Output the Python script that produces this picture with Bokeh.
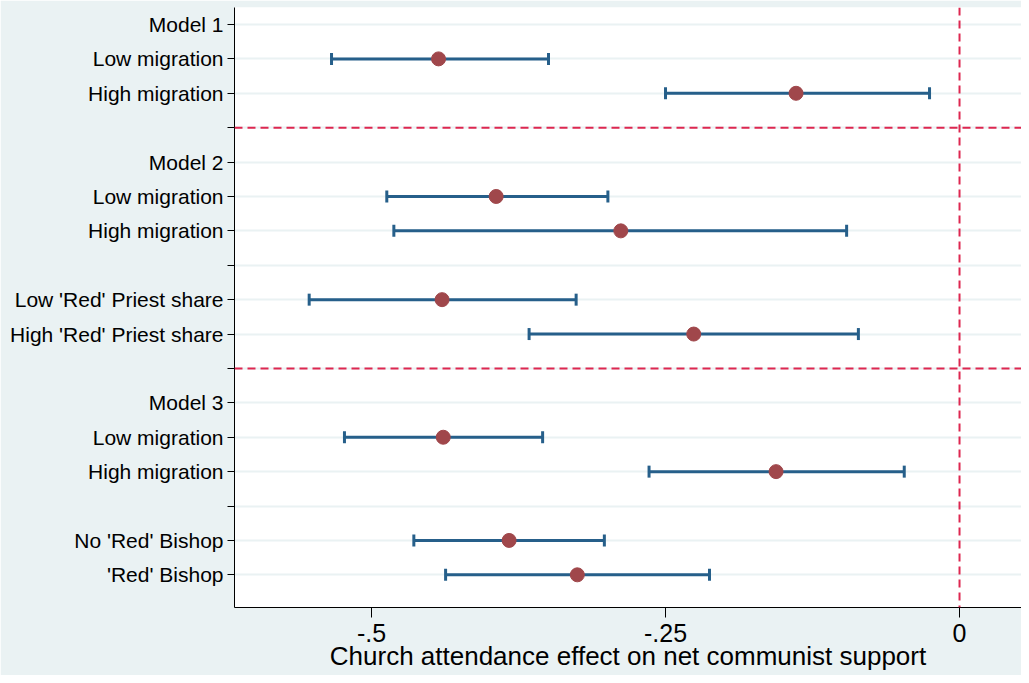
import math
from bokeh.plotting import figure
from bokeh.models import Range1d, FixedTicker, Span, ColumnDataSource
from bokeh.embed import file_html
from bokeh.resources import INLINE

# ---- data ----
rows = ["Model 1", "Low migration", "High migration", "",
        "Model 2", "Low migration", "High migration", "",
        "Low 'Red' Priest share", "High 'Red' Priest share", "",
        "Model 3", "Low migration", "High migration", "",
        "No 'Red' Bishop", "'Red' Bishop"]
estimate = [None, -0.443, -0.139, None,
            None, -0.394, -0.288, None,
            -0.440, -0.226, None,
            None, -0.439, -0.156, None,
            -0.383, -0.325]
lower = [None, -0.534, -0.250, None,
         None, -0.487, -0.481, None,
         -0.553, -0.366, None,
         None, -0.523, -0.264, None,
         -0.464, -0.437]
upper = [None, -0.3495, -0.0255, None,
         None, -0.299, -0.096, None,
         -0.326, -0.086, None,
         None, -0.3545, -0.047, None,
         -0.302, -0.2126]
separator_rows = [4, 11]  # blank rows (1-based) carrying red dashed lines
x_ticks = [-0.5, -0.25, 0]
x_tick_labels = ["-.5", "-.25", "0"]
x_title = "Church attendance effect on net communist support"

FONT = "Liberation Sans"
BG = "#EAF2F3"
LINE = "#265F8A"
DOT = "#A0474B"
RED = "#DD2750"

pos = list(range(1, len(rows) + 1))
ys, est, lo, hi = [], [], [], []
for i, e in enumerate(estimate):
    if e is not None:
        ys.append(pos[i]); est.append(e); lo.append(lower[i]); hi.append(upper[i])
src = ColumnDataSource(dict(y=ys, est=est, lo=lo, hi=hi))

p = figure(width=1021, height=675, output_backend="svg", toolbar_location=None,
           x_range=Range1d(-0.6165, 0.0527), y_range=Range1d(17.95, 0.506),
           min_border_left=234, min_border_right=0, min_border_top=7, min_border_bottom=68,
           background_fill_color="white", border_fill_color=BG)
p.outline_line_color = None

p.xgrid.visible = False
p.ygrid.ticker = FixedTicker(ticks=pos)
p.ygrid.grid_line_color = BG
p.ygrid.grid_line_width = 2

p.yaxis.ticker = FixedTicker(ticks=pos)
p.yaxis.major_label_overrides = {pos[i]: rows[i] for i in range(len(rows))}
p.yaxis.major_label_text_font = FONT
p.yaxis.major_label_text_font_size = "21px"
p.yaxis.major_label_text_color = "black"
p.yaxis.major_tick_out = 7
p.yaxis.major_tick_in = 0
p.yaxis.minor_tick_line_color = None
p.yaxis.axis_line_color = "black"
p.yaxis.major_tick_line_color = "black"
p.yaxis.major_label_standoff = 4

p.xaxis.ticker = FixedTicker(ticks=x_ticks)
p.xaxis.major_label_overrides = {x_ticks[i]: x_tick_labels[i] for i in range(len(x_ticks))}
p.xaxis.major_label_text_font = FONT
p.xaxis.major_label_text_font_size = "25px"
p.xaxis.major_label_text_color = "black"
p.xaxis.major_tick_out = 10
p.xaxis.major_tick_in = 0
p.xaxis.minor_tick_line_color = None
p.xaxis.axis_line_color = "black"
p.xaxis.major_tick_line_color = "black"
p.xaxis.major_label_standoff = 6
p.xaxis.axis_label = x_title
p.xaxis.axis_label_text_font = FONT
p.xaxis.axis_label_text_font_size = "26px"
p.xaxis.axis_label_text_font_style = "normal"
p.xaxis.axis_label_text_color = "black"
p.xaxis.axis_label_standoff = -4

# error bars
p.segment(x0="lo", x1="hi", y0="y", y1="y", source=src, line_color=LINE, line_width=3)
p.scatter(x="lo", y="y", source=src, marker="dash", angle=math.pi / 2, size=12,
          line_color=LINE, line_width=3)
p.scatter(x="hi", y="y", source=src, marker="dash", angle=math.pi / 2, size=12,
          line_color=LINE, line_width=3)
p.scatter(x="est", y="y", source=src, marker="circle", size=14,
          fill_color=DOT, line_color=DOT)

# reference lines
p.add_layout(Span(location=0, dimension="height", line_color=RED, line_width=2, line_dash="8 5"))
for r in separator_rows:
    p.add_layout(Span(location=r, dimension="width", line_color=RED,
                      line_width=2, line_dash="8 5"))

open("out.html", "w").write(file_html(p, INLINE))
